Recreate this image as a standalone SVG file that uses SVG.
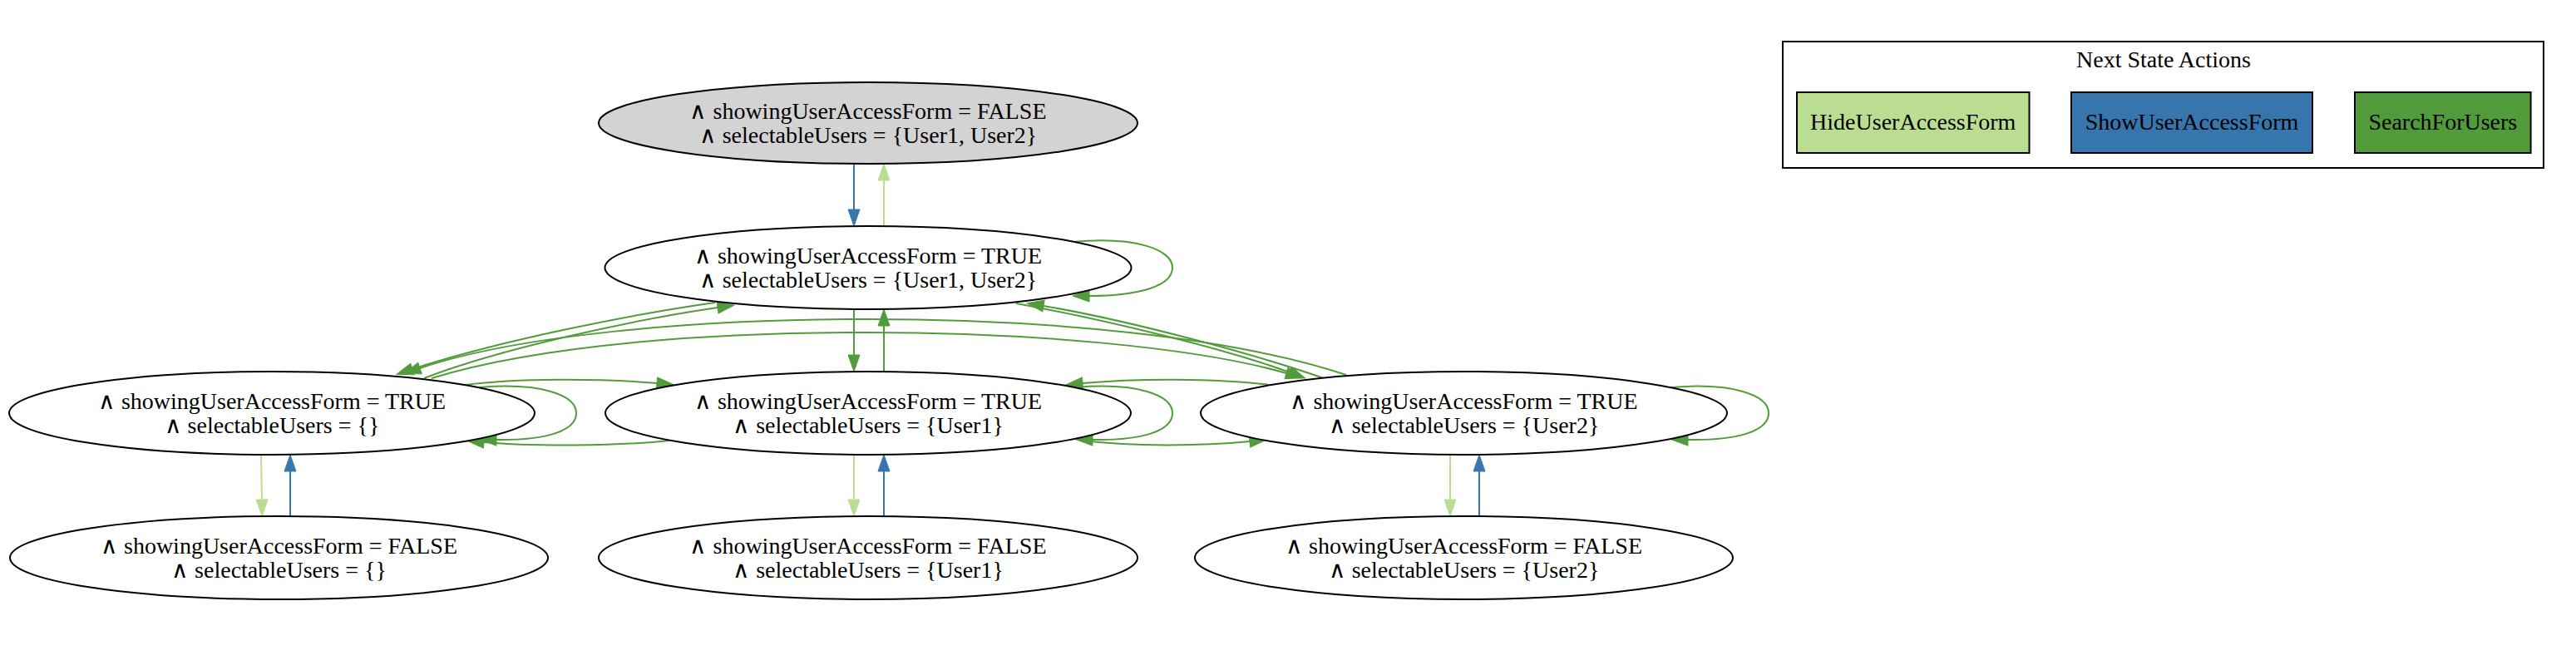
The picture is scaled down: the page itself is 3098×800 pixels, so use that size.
<svg xmlns="http://www.w3.org/2000/svg" width="3098" height="800" viewBox="0 0 3098 800">
<style>
.n ellipse{fill:#fff;stroke:#000;stroke-width:2}
.n.init ellipse{fill:#d3d3d3}
text{font-family:"Liberation Serif","Times New Roman",serif;font-size:28px;fill:#000;text-anchor:middle}
.e path{fill:none;stroke-width:2}
.hide{stroke:#bbdd92;marker-end:url(#mHide)}
.show{stroke:#3776ad;marker-end:url(#mShow)}
.srch{stroke:#529b3b;marker-end:url(#mSrch)}
.lg rect{stroke:#000;stroke-width:2}
</style>
<defs>
<marker id="mHide" markerUnits="userSpaceOnUse" markerWidth="24" markerHeight="18" refX="0" refY="0" viewBox="0 -9 22 18" orient="auto"><path d="M0,-7L20,0L0,7z" fill="#bbdd92" stroke="#bbdd92" stroke-width="1"/></marker>
<marker id="mShow" markerUnits="userSpaceOnUse" markerWidth="24" markerHeight="18" refX="0" refY="0" viewBox="0 -9 22 18" orient="auto"><path d="M0,-7L20,0L0,7z" fill="#3776ad" stroke="#3776ad" stroke-width="1"/></marker>
<marker id="mSrch" markerUnits="userSpaceOnUse" markerWidth="24" markerHeight="18" refX="0" refY="0" viewBox="0 -9 22 18" orient="auto"><path d="M0,-7L20,0L0,7z" fill="#529b3b" stroke="#529b3b" stroke-width="1"/></marker>
</defs>
<rect width="3098" height="800" fill="#fff"/>
<g id="edges" class="e">
<path class="show" d="M1027,197 L1027,252"/>
<path class="hide" d="M1063,272 L1063,217"/>
<path class="srch" d="M1027,372 L1027,427"/>
<path class="srch" d="M1063,447 L1063,392"/>
<path class="hide" d="M314,547 L315,601"/>
<path class="show" d="M349,621 L349,567"/>
<path class="hide" d="M1027,547 L1027,601"/>
<path class="show" d="M1063,621 L1063,567"/>
<path class="hide" d="M1744,547 L1744,601"/>
<path class="show" d="M1779,621 L1779,567"/>
<path class="srch" d="M1290,291 C1365,284 1410,300 1410,322 C1410,344 1370,356 1310,356"/>
<path class="srch" d="M577,466 C650,460 693,475 693,497 C693,519 655,530 597,529"/>
<path class="srch" d="M1294,466 C1367,460 1410,475 1410,497 C1410,519 1372,530 1314,529"/>
<path class="srch" d="M2010,466 C2083,460 2127,475 2127,497 C2127,519 2089,530 2030,529"/>
<path class="srch" d="M560,463 C620,455 720,455 790,461"/>
<path class="srch" d="M805,530 C740,537 640,537 582,532"/>
<path class="srch" d="M1527,463 C1460,455 1370,455 1302,461"/>
<path class="srch" d="M1300,530 C1365,537 1440,537 1503,531"/>
<path class="srch" d="M510,455 C600,420 760,385 863,370"/>
<path class="srch" d="M860,364 C760,378 600,410 496,444"/>
<path class="srch" d="M1222,365 C1320,383 1470,418 1551,448"/>
<path class="srch" d="M1592,455 C1500,423 1350,384 1255,368"/>
<path class="srch" d="M1619,451 C1480,405 1260,384 1044,384 C830,384 620,404 505,443"/>
<path class="srch" d="M519,455 C650,415 850,400 1044,400 C1240,400 1440,418 1547,449"/>
</g>
<g id="nA" class="n init"><ellipse cx="1044" cy="148" rx="324" ry="49"/><text x="1044" y="143">∧ showingUserAccessForm = FALSE</text><text x="1044" y="172">∧ selectableUsers = {User1, User2}</text></g>
<g id="nB" class="n"><ellipse cx="1044" cy="322" rx="316.5" ry="50"/><text x="1044" y="317">∧ showingUserAccessForm = TRUE</text><text x="1044" y="346">∧ selectableUsers = {User1, User2}</text></g>
<g id="nC" class="n"><ellipse cx="327" cy="497" rx="316" ry="50"/><text x="327" y="492">∧ showingUserAccessForm = TRUE</text><text x="327" y="521">∧ selectableUsers = {}</text></g>
<g id="nD" class="n"><ellipse cx="1044" cy="497" rx="316" ry="50"/><text x="1044" y="492">∧ showingUserAccessForm = TRUE</text><text x="1044" y="521">∧ selectableUsers = {User1}</text></g>
<g id="nE" class="n"><ellipse cx="1760.5" cy="497" rx="316.5" ry="50"/><text x="1760.5" y="492">∧ showingUserAccessForm = TRUE</text><text x="1760.5" y="521">∧ selectableUsers = {User2}</text></g>
<g id="nF" class="n"><ellipse cx="335.5" cy="671" rx="323.5" ry="50"/><text x="335.5" y="666">∧ showingUserAccessForm = FALSE</text><text x="335.5" y="695">∧ selectableUsers = {}</text></g>
<g id="nG" class="n"><ellipse cx="1044" cy="671" rx="324" ry="50"/><text x="1044" y="666">∧ showingUserAccessForm = FALSE</text><text x="1044" y="695">∧ selectableUsers = {User1}</text></g>
<g id="nH" class="n"><ellipse cx="1760.5" cy="671" rx="323.5" ry="50"/><text x="1760.5" y="666">∧ showingUserAccessForm = FALSE</text><text x="1760.5" y="695">∧ selectableUsers = {User2}</text></g>
<g id="legend" class="lg">
<rect x="2144" y="50" width="915" height="152" fill="#fff"/>
<text x="2602" y="81">Next State Actions</text>
<g id="lgHide"><rect x="2161" y="111" width="279.5" height="73" fill="#bbdd92"/><text x="2300.75" y="156">HideUserAccessForm</text></g>
<g id="lgShow"><rect x="2491" y="111" width="290" height="73" fill="#3776ad"/><text x="2636" y="156">ShowUserAccessForm</text></g>
<g id="lgSrch"><rect x="2832" y="111" width="211.6" height="73" fill="#529b3b"/><text x="2937.8" y="156">SearchForUsers</text></g>
</g>
</svg>
